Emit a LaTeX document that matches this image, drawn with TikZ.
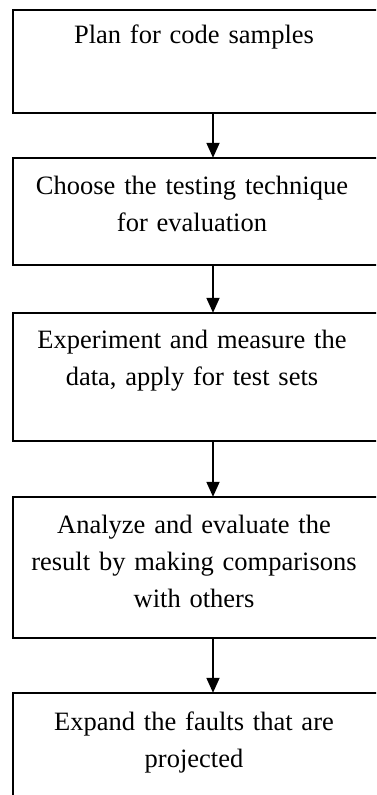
\documentclass[tikz,border=0pt]{standalone}
\usepackage{fontspec}
\setmainfont{Liberation Serif}
\usetikzlibrary{arrows.meta}
\begin{document}
\begin{tikzpicture}[x=1pt,y=-1pt,
  stepbox/.style={rectangle, inner sep=0pt, minimum width=420pt},
  boxline/.style={draw=black, line width=1.8pt},
  steptext/.style={font=\fontsize{26.5}{37}\selectfont, align=center, anchor=north, inner sep=0pt, text width=360pt},
  arr/.style={line width=1.8pt, -{Triangle[width=13pt,length=15pt]}}]
\useasboundingbox (0,0) rectangle (376,795);
\begin{scope}
\clip (0,0) rectangle (376,795);
% boxes (left edge 13, right edge outside the picture)
\node[stepbox, minimum height=103pt] (b1) at (223,61.5) {};
\node[stepbox, minimum height=107pt] (b2) at (223,211.5) {};
\node[stepbox, minimum height=128pt] (b3) at (223,377) {};
\node[stepbox, minimum height=141pt] (b4) at (223,567.5) {};
\node[stepbox, minimum height=160pt] (b5) at (223,773) {};
\foreach \b in {b1,b2,b3,b4,b5}
  \draw[boxline] (\b.north east) -- (\b.north west) -- (\b.south west) -- (\b.south east);
\end{scope}
% texts
\node[steptext] (t1) at (194,17.1) {\strut Plan for code samples};
\node[steptext] (t2) at (192,168.1) {\strut Choose the testing technique\\\strut for evaluation};
\node[steptext] (t3) at (192,322.1) {\strut Experiment and measure the\\\strut data, apply for test sets};
\node[steptext] (t4) at (194,507.1) {\strut Analyze and evaluate the\\\strut result by making comparisons\\\strut with others};
\node[steptext] (t5) at (194,704.1) {\strut Expand the faults that are\\\strut projected};
% arrows
\draw[arr] ([xshift=-10pt]b1.south) -- ([xshift=-10pt]b2.north);
\draw[arr] ([xshift=-10pt]b2.south) -- ([xshift=-10pt]b3.north);
\draw[arr] ([xshift=-10pt]b3.south) -- ([xshift=-10pt]b4.north);
\draw[arr] ([xshift=-10pt]b4.south) -- ([xshift=-10pt]b5.north);
\end{tikzpicture}
\end{document}
